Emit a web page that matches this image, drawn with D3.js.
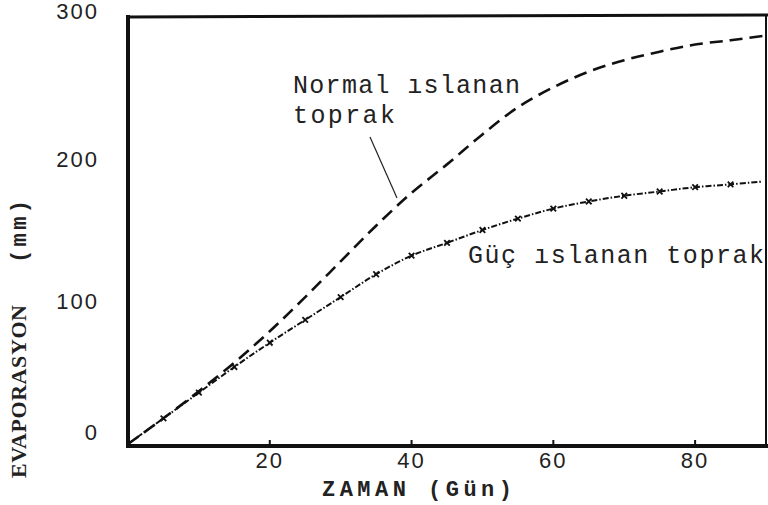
<!DOCTYPE html>
<html>
<head>
<meta charset="utf-8">
<script src="https://cdn.jsdelivr.net/npm/d3@7"></script>
<style>
  html, body { margin: 0; padding: 0; background: #fff; }
  svg { display: block; }
  .tick-label { font-family: "Liberation Sans", sans-serif; font-size: 22px; fill: #222; letter-spacing: 2px; }
  .typed { font-family: "Liberation Mono", "DejaVu Sans Mono", monospace; fill: #222; }
</style>
</head>
<body>
<div id="chart"></div>
<script>
// days along the x axis
const days = [0, 5, 10, 15, 20, 25, 30, 35, 40, 45, 50, 55, 60, 65, 70, 75, 80, 85, 89.5];
// "Normal ıslanan toprak" (dashed)
const normalSoil = [0, 18, 37, 57, 79, 103, 128, 153, 176, 196, 217, 236, 250, 261, 269, 275, 280, 283, 286];
// "Güç ıslanan toprak" (dotted, with marks)
const hardSoil = [0, 18, 36, 54, 71, 87, 103, 119, 132, 141, 150, 158, 165, 170, 174, 177, 180, 182, 184];
const xTicks = [20, 40, 60, 80];
const yTicks = [0, 100, 200, 300];
// the scanned labels sit a little off their gridline
const yLabelNudge = {0: -4, 100: 8, 200: 8, 300: 3};

const width = 768;
const height = 505;

const svg = d3.select("#chart").append("svg")
  .attr("width", width)
  .attr("height", height);

const x = d3.scaleLinear().domain([0, 90]).range([128, 766]);
const y = d3.scaleLinear().domain([0, 300]).range([444, 16]);

// frame
svg.append("line").attr("x1", 128).attr("y1", 448).attr("x2", 128).attr("y2", 15)
  .attr("stroke", "#111").attr("stroke-width", 4);
svg.append("line").attr("x1", 126).attr("y1", 446).attr("x2", 768).attr("y2", 446)
  .attr("stroke", "#111").attr("stroke-width", 4);
svg.append("line").attr("x1", 126).attr("y1", 17).attr("x2", 768).attr("y2", 15)
  .attr("stroke", "#111").attr("stroke-width", 3);
svg.append("line").attr("x1", 766).attr("y1", 15).attr("x2", 766).attr("y2", 446)
  .attr("stroke", "#111").attr("stroke-width", 2);

// little tick marks on the x axis
svg.selectAll("line.xtick").data(xTicks).enter().append("line")
  .attr("class", "xtick")
  .attr("x1", d => x(d)).attr("x2", d => x(d))
  .attr("y1", 444).attr("y2", 440)
  .attr("stroke", "#111").attr("stroke-width", 2);

svg.selectAll("text.xl").data(xTicks).enter().append("text")
  .attr("class", "tick-label xl")
  .attr("x", d => x(d))
  .attr("y", 468)
  .attr("text-anchor", "middle")
  .text(d => d);

svg.selectAll("text.yl").data(yTicks).enter().append("text")
  .attr("class", "tick-label yl")
  .attr("x", 99)
  .attr("y", d => y(d) + yLabelNudge[d])
  .attr("text-anchor", "end")
  .text(d => d);

// axis titles
svg.append("text").attr("class", "typed")
  .attr("x", 322).attr("y", 496)
  .attr("font-size", 22).attr("font-weight", "bold")
  .attr("textLength", 190).attr("lengthAdjust", "spacing")
  .text("ZAMAN (Gün)");

svg.append("text")
  .attr("transform", "translate(26,478) rotate(-90)")
  .attr("font-family", "Liberation Serif, serif")
  .attr("font-size", 22).attr("font-weight", "bold").attr("fill", "#222")
  .attr("textLength", 173).attr("lengthAdjust", "spacing")
  .text("EVAPORASYON");
svg.append("text")
  .attr("class", "typed")
  .attr("transform", "translate(26,263) rotate(-90)")
  .attr("font-size", 22).attr("font-weight", "bold")
  .attr("textLength", 63).attr("lengthAdjust", "spacing")
  .text("(mm)");

// curves
const line = series => d3.line()
  .x((d, i) => x(days[i]))
  .y(d => y(d))
  .curve(d3.curveCatmullRom)(series);

svg.append("path")
  .attr("d", line(normalSoil))
  .attr("fill", "none").attr("stroke", "#111")
  .attr("stroke-width", 2.6).attr("stroke-dasharray", "13,7");

svg.append("path")
  .attr("d", line(hardSoil))
  .attr("fill", "none").attr("stroke", "#111")
  .attr("stroke-width", 2).attr("stroke-dasharray", "6,2,1.5,2");

const marks = days.map((d, i) => [d, hardSoil[i]]).filter(p => p[0] >= 5 && p[0] < 89);
svg.selectAll("path.mark").data(marks).enter().append("path")
  .attr("class", "mark")
  .attr("transform", d => `translate(${x(d[0])},${y(d[1])})`)
  .attr("d", d3.symbol().type(d3.symbolX).size(22))
  .attr("fill", "none").attr("stroke", "#111").attr("stroke-width", 1.8);

// labels
svg.append("text").attr("class", "typed")
  .attr("x", 293).attr("y", 93).attr("font-size", 25)
  .attr("textLength", 227).attr("lengthAdjust", "spacing")
  .text("Normal ıslanan");
svg.append("text").attr("class", "typed")
  .attr("x", 293).attr("y", 123).attr("font-size", 25)
  .attr("textLength", 102).attr("lengthAdjust", "spacing")
  .text("toprak");
svg.append("line")
  .attr("x1", 370).attr("y1", 137).attr("x2", 397).attr("y2", 198)
  .attr("stroke", "#222").attr("stroke-width", 1.2);
svg.append("text").attr("class", "typed")
  .attr("x", 468).attr("y", 263).attr("font-size", 25)
  .attr("textLength", 296).attr("lengthAdjust", "spacing")
  .text("Güç ıslanan toprak");
</script>
</body>
</html>
